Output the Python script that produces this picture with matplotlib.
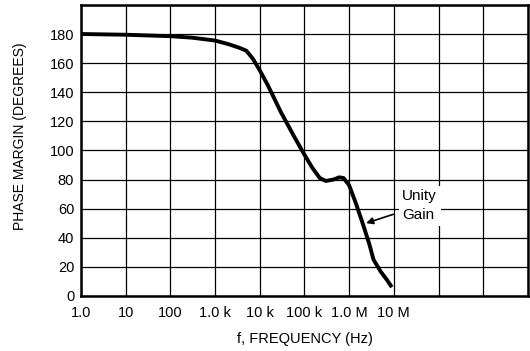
import matplotlib
matplotlib.use('Agg')
import matplotlib.pyplot as plt

plt.rcParams['font.family'] = ['Liberation Sans', 'DejaVu Sans']

# phase margin curve
freq_hz = [1.0, 10, 100, 300, 1.0e3, 2.0e3, 3.5e3, 5.0e3, 7.0e3, 1.0e4, 1.5e4,
           3.0e4, 6.0e4, 1.0e5, 1.5e5, 2.2e5, 3.0e5, 4.5e5, 6.0e5, 7.5e5,
           1.0e6, 1.4e6, 2.0e6, 2.8e6, 3.5e6, 5.0e6, 7.0e6, 9.0e6]
phase_deg = [180, 179.5, 178.5, 177.5, 175.5, 173, 170.5, 168.5, 163, 155, 145,
             126, 109, 97, 88, 81, 79, 80, 81.5, 81,
             76, 64, 50, 36, 25, 17, 11, 6]
tick_freqs = [1, 10, 100, 1e3, 1e4, 1e5, 1e6, 1e7, 1e8, 1e9, 1e10]
tick_labels = ['1.0', '10', '100', '1.0 k', '10 k', '100 k', '1.0 M', '10 M', '', '', '']
y_ticks = list(range(0, 201, 20))
y_labels = [str(v) for v in range(0, 181, 20)] + ['']

fig = plt.figure(figsize=(5.30, 3.51), dpi=100)
ax = fig.add_axes([0.153, 0.157, 0.843, 0.829])

ax.plot(freq_hz, phase_deg, color='black', lw=2.8, solid_capstyle='butt',
        solid_joinstyle='round')
ax.set_xscale('log')
ax.set_xlim(1, 1e10)
ax.set_ylim(0, 200)
ax.set_xticks(tick_freqs)
ax.set_xticklabels(tick_labels)
ax.minorticks_off()
ax.set_yticks(y_ticks)
ax.set_yticklabels(y_labels)
ax.grid(True, color='black', lw=0.9)
ax.tick_params(axis='x', length=0, labelsize=10.5, pad=7)
ax.tick_params(axis='y', length=0, labelsize=10.5, pad=5)
for s in ax.spines.values():
    s.set_linewidth(1.8)

ax.set_xlabel('f, FREQUENCY (Hz)', fontsize=10.5, labelpad=9)
ax.set_ylabel('PHASE MARGIN (DEGREES)', fontsize=10)
ax.yaxis.set_label_coords(-0.12, 0.55)

ax.annotate('Unity\nGain', xy=(2.4e6, 50), xytext=(1.55e7, 62),
            fontsize=11, ha='left', va='center', linespacing=1.4,
            bbox=dict(boxstyle='square,pad=0.25', fc='white', ec='none'),
            arrowprops=dict(arrowstyle='-|>', color='black', lw=1.2,
                            mutation_scale=10, shrinkA=4, shrinkB=0))

fig.savefig('out.png', dpi=100)
